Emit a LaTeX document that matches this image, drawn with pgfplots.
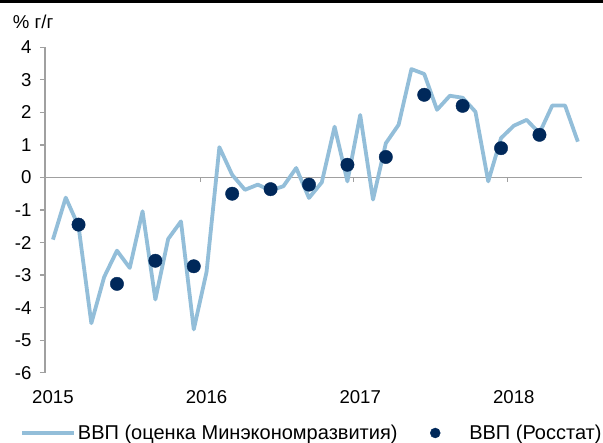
\documentclass[border=0pt]{standalone}
\usepackage{pgfplots}
\pgfplotsset{compat=1.18}
\usepackage{fontspec}
\setmainfont{Liberation Sans}
\definecolor{lineblue}{RGB}{147,190,217}
\definecolor{navy}{RGB}{0,40,90}
\definecolor{axgray}{RGB}{160,160,160}
\newcommand{\bigfont}{\fontsize{18.6}{22}\selectfont}
\newcommand{\legfont}{\fontsize{20}{24}\selectfont}
\begin{document}
\begin{tikzpicture}[x=1pt,y=1pt]
\useasboundingbox (0,0) rectangle (603,443);
\fill[black] (0,440.3) rectangle (603,443);
\node[anchor=west, inner sep=0pt, font=\bigfont] at (12.7,421.3) {\% г/г};
\begin{axis}[
  at={(45pt,70.3pt)}, anchor=south west,
  scale only axis, width=536.7pt, height=325.4pt,
  xmin=-0.62, xmax=41.3, ymin=-6, ymax=4,
  axis lines=left,
  x axis line style={draw=none},
  y axis line style={-, draw=axgray, line width=1.3pt},
  xtick={0,12,24,36}, xticklabels={2015,2016,2017,2018},
  ytick={-6,-5,...,4}, yticklabels={-6,-5,-4,-3,-2,-1,0,1,2,3,4},
  xtick style={draw=none},
  ytick style={draw=axgray, line width=1.3pt},
  tick align=outside, major tick length=5pt,
  tick label style={font=\bigfont, text=black},
  xticklabel style={yshift=-9pt},
  yticklabel style={xshift=-5pt},
  clip=false,
  legend style={at={(-0.0466,-0.1853)}, anchor=west, draw=none, fill=none,
    legend columns=2, font=\legfont, inner sep=0pt,
    /tikz/every even column/.append style={column sep=30.5pt}},
]
\draw[axgray, line width=1.3pt] (axis cs:-0.62,0) -- (axis cs:41.3,0);
\draw[axgray, line width=1.3pt] (axis cs:11.5,0) -- ([yshift=-5pt]axis cs:11.5,0);
\draw[axgray, line width=1.3pt] (axis cs:23.5,0) -- ([yshift=-5pt]axis cs:23.5,0);
\draw[axgray, line width=1.3pt] (axis cs:35.5,0) -- ([yshift=-5pt]axis cs:35.5,0);
\addplot[lineblue, line width=3.8pt, line join=round, mark=none,
  legend image code/.code={\draw[lineblue, line width=3.8pt] (0pt,0pt) -- (52pt,0pt);}]
  coordinates {
  (0,-1.91) (1,-0.62) (2,-1.5) (3,-4.48) (4,-3.06) (5,-2.25) (6,-2.78)
  (7,-1.04) (8,-3.75) (9,-1.89) (10,-1.35) (11,-4.67) (12,-2.9) (13,0.93)
  (14,0.08) (15,-0.38) (16,-0.22) (17,-0.4) (18,-0.27) (19,0.29) (20,-0.63)
  (21,-0.15) (22,1.56) (23,-0.12) (24,1.92) (25,-0.68) (26,1.05) (27,1.62)
  (28,3.33) (29,3.18) (30,2.08) (31,2.51) (32,2.45) (33,2.02) (34,-0.12)
  (35,1.21) (36,1.59) (37,1.77) (38,1.36) (39,2.21) (40,2.21) (41,1.1)
  };
\addlegendentry{ВВП (оценка Минэкономразвития)}
\addplot[only marks, mark=*, mark size=6.7pt, draw=navy, fill=navy,
  legend image code/.code={\fill[navy] (5pt,0pt) circle (5pt); \path[draw=none,fill=none] (0pt,0pt) -- (37pt,0pt);}]
  coordinates {
  (2,-1.45) (5,-3.27) (8,-2.56) (11,-2.73) (14,-0.5) (17,-0.36) (20,-0.22)
  (23,0.39) (26,0.63) (29,2.54) (32,2.2) (35,0.9) (38,1.31)
  };
\addlegendentry{ВВП (Росстат)}
\end{axis}
\end{tikzpicture}
\end{document}
